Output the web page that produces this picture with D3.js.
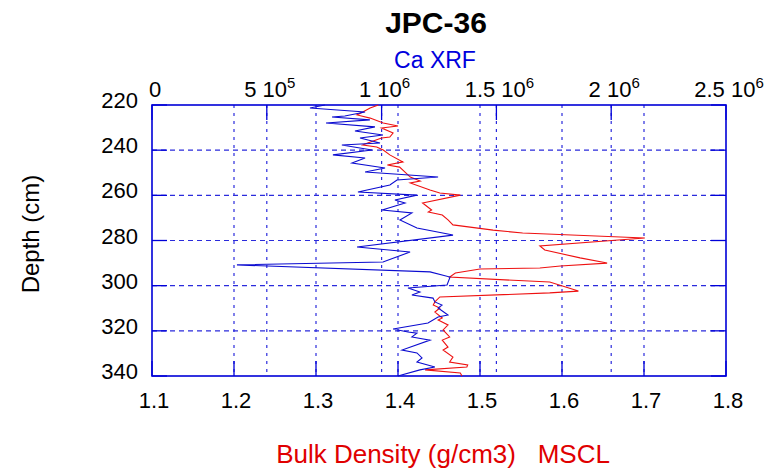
<!DOCTYPE html>
<html>
<head>
<meta charset="utf-8">
<script src="https://cdn.jsdelivr.net/npm/d3@7"></script>
<style>
  body { margin: 0; background: #fff; }
  text { font-family: Arial, "Liberation Sans", sans-serif; }
</style>
</head>
<body>
<div class="depth-chart"></div>
<script>
// Ca XRF counts (top axis) vs depth
var caDepth = [220.0, 221.3, 223.1, 224.9, 225.3, 226.6, 228.0, 229.7, 231.5, 233.3, 234.6, 236.8, 237.7, 239.9,
  242.1, 243.5, 245.7, 247.9, 249.7, 251.9, 253.2, 255.4, 258.5, 259.9, 262.1, 263.4, 266.5, 267.8, 270.9,
  274.5, 277.6, 282.9, 285.1, 289.5, 290.8, 293.9, 296.2, 299.7, 301.0, 302.8, 304.1, 305.5, 307.2, 308.6,
  309.9, 313.0, 313.9, 316.5, 319.2, 320.5, 321.0, 322.7, 324.1, 328.5, 329.8, 332.0, 333.8, 336.0, 337.3, 340.0];
var caXrf = [753000, 688000, 928000, 840000, 784000, 949000, 758000, 971000, 884000, 1006000, 906000, 993000, 827000, 958000,
  788000, 928000, 871000, 1015000, 928000, 1246000, 1067000, 1036000, 897000, 1154000, 1058000, 1102000, 1002000, 1132000, 1080000,
  1154000, 1311000, 893000, 1124000, 1006000, 370000, 1211000, 1298000, 1285000, 1115000, 1167000, 1132000, 1224000, 1232000, 1263000,
  1246000, 1289000, 1246000, 1202000, 1050000, 1115000, 1154000, 1132000, 1211000, 1089000, 1154000, 1176000, 1154000, 1232000, 1167000, 1071000];

// MSCL bulk density (bottom axis) vs depth
var densDepth = [220.0, 221.3, 223.1, 224.4, 225.8, 228.0, 229.3, 230.2, 232.4, 234.2, 234.6, 236.8, 237.7, 238.6, 239.9,
  242.1, 245.2, 246.6, 247.5, 251.9, 253.7, 254.5, 257.6, 259.0, 259.9, 263.4, 266.5, 267.4, 268.7, 270.9, 273.1,
  275.4, 276.7, 278.9, 282.4, 284.2, 287.7, 290.0, 291.3, 292.2, 292.6, 294.4, 296.2, 298.4, 302.4, 303.2, 305.0,
  307.2, 308.6, 309.9, 311.7, 314.3, 315.2, 317.4, 319.6, 322.7, 324.1, 327.2, 328.5, 331.6, 333.8, 335.1, 336.0,
  337.3, 338.7, 340.0];
var density = [1.376, 1.366, 1.357, 1.350, 1.366, 1.382, 1.400, 1.380, 1.394, 1.390, 1.380, 1.363, 1.357, 1.374, 1.382,
  1.390, 1.406, 1.387, 1.402, 1.415, 1.427, 1.415, 1.439, 1.451, 1.476, 1.430, 1.441, 1.437, 1.454, 1.461, 1.467,
  1.516, 1.552, 1.701, 1.573, 1.579, 1.622, 1.655, 1.598, 1.573, 1.500, 1.470, 1.463, 1.585, 1.620, 1.585, 1.451,
  1.445, 1.443, 1.451, 1.445, 1.454, 1.449, 1.461, 1.455, 1.463, 1.454, 1.461, 1.455, 1.467, 1.463, 1.485, 1.484,
  1.433, 1.476, 1.478];

var depthTicks = [220, 240, 260, 280, 300, 320, 340];
var xrfTicks = [0, 5e5, 1e6, 1.5e6, 2e6, 2.5e6];
var densTicks = [1.1, 1.2, 1.3, 1.4, 1.5, 1.6, 1.7, 1.8];

var width = 774;
var height = 474;
var margin = {top: 105, right: 48, bottom: 98, left: 152};
var innerW = width - margin.left - margin.right;
var innerH = height - margin.top - margin.bottom;
var gridColor = "#2b2bdc";
var axisColor = "#0000d8";
var tickLen = 15;

var svg = d3.select(".depth-chart").append("svg")
  .attr("width", width)
  .attr("height", height);

var g = svg.append("g")
  .attr("transform", "translate(" + margin.left + "," + margin.top + ")");

var y = d3.scaleLinear().domain([220, 340]).range([0, innerH]);
var xTop = d3.scaleLinear().domain([0, 2.5e6]).range([0, innerW]);
var xBot = d3.scaleLinear().domain([1.1, 1.8]).range([0, innerW]);

// grid lines
g.selectAll(".hgrid")
  .data(depthTicks.slice(1, -1))
  .enter().append("line")
  .attr("x1", 0).attr("x2", innerW)
  .attr("y1", d => y(d)).attr("y2", d => y(d))
  .style("stroke", gridColor)
  .style("stroke-width", 1.2)
  .style("stroke-dasharray", "5 4");

g.selectAll(".vgrid-top")
  .data(xrfTicks.slice(1, -1))
  .enter().append("line")
  .attr("x1", d => xTop(d)).attr("x2", d => xTop(d))
  .attr("y1", 0).attr("y2", innerH)
  .style("stroke", gridColor)
  .style("stroke-width", 1.2)
  .style("stroke-dasharray", "3 5");

g.selectAll(".vgrid-bot")
  .data(densTicks.slice(1, -1))
  .enter().append("line")
  .attr("x1", d => xBot(d)).attr("x2", d => xBot(d))
  .attr("y1", 0).attr("y2", innerH)
  .style("stroke", gridColor)
  .style("stroke-width", 1.2)
  .style("stroke-dasharray", "3 5");

// inward tick marks
function ticks(cls, data, f) {
  g.selectAll("." + cls).data(data).enter().append("line")
    .attr("class", cls)
    .each(function(d) { d3.select(this).attr("x1", f(d)[0]).attr("y1", f(d)[1]).attr("x2", f(d)[2]).attr("y2", f(d)[3]); })
    .style("stroke", axisColor)
    .style("stroke-width", 1.3);
}
ticks("tl", depthTicks, d => [0, y(d), tickLen, y(d)]);
ticks("tr", depthTicks, d => [innerW, y(d), innerW - tickLen, y(d)]);
ticks("tt", xrfTicks, d => [xTop(d), 0, xTop(d), tickLen]);
ticks("tb", densTicks, d => [xBot(d), innerH, xBot(d), innerH - tickLen]);

// frame
g.append("rect")
  .attr("width", innerW)
  .attr("height", innerH)
  .style("fill", "none")
  .style("stroke", axisColor)
  .style("stroke-width", 1.6);

// series
var xrfLine = d3.line()
  .x(d => xTop(d[1]))
  .y(d => y(d[0]));
var densLine = d3.line()
  .x(d => xBot(d[1]))
  .y(d => y(d[0]));

g.append("path")
  .attr("d", densLine(d3.zip(densDepth, density)))
  .style("fill", "none")
  .style("stroke", "#ee1111")
  .style("stroke-width", 1.1);

g.append("path")
  .attr("d", xrfLine(d3.zip(caDepth, caXrf)))
  .style("fill", "none")
  .style("stroke", "#0b0bd0")
  .style("stroke-width", 1.1);

// tick labels
g.selectAll(".ylab")
  .data(depthTicks)
  .enter().append("text")
  .attr("x", -14)
  .attr("y", d => y(d) + 3)
  .attr("text-anchor", "end")
  .style("font-size", "22px")
  .text(d => d);

g.selectAll(".blab")
  .data(densTicks)
  .enter().append("text")
  .attr("x", d => xBot(d) + 2)
  .attr("y", innerH + 32)
  .attr("text-anchor", "middle")
  .style("font-size", "22px")
  .text(d => d3.format(".1f")(d));

var topLab = g.selectAll(".tlab")
  .data(xrfTicks)
  .enter().append("text")
  .attr("x", d => xTop(d) + 3)
  .attr("y", -8)
  .attr("text-anchor", "middle")
  .style("font-size", "22px");

topLab.each(function(d) {
  var t = d3.select(this);
  if (d === 0) { t.text("0"); return; }
  var e = Math.floor(Math.log10(d));
  var m = +(d / Math.pow(10, e)).toFixed(2);
  t.append("tspan").text(m + " 10");
  t.append("tspan").attr("dy", -9).style("font-size", "15px").text(e);
});

// titles
svg.append("text")
  .attr("x", 436).attr("y", 33)
  .attr("text-anchor", "middle")
  .style("font-size", "30px")
  .style("font-weight", "bold")
  .text("JPC-36");

svg.append("text")
  .attr("x", 435).attr("y", 68)
  .attr("text-anchor", "middle")
  .style("font-size", "23px")
  .style("fill", "#0000dd")
  .text("Ca XRF");

svg.append("text")
  .attr("transform", "translate(39,234) rotate(-90)")
  .attr("text-anchor", "middle")
  .style("font-size", "24px")
  .text("Depth (cm)");

svg.append("text")
  .attr("x", 443).attr("y", 463)
  .attr("text-anchor", "middle")
  .attr("xml:space", "preserve")
  .style("white-space", "pre")
  .style("font-size", "26px")
  .style("fill", "#e00000")
  .text("Bulk Density (g/cm3)   MSCL");
</script>
</body>
</html>
